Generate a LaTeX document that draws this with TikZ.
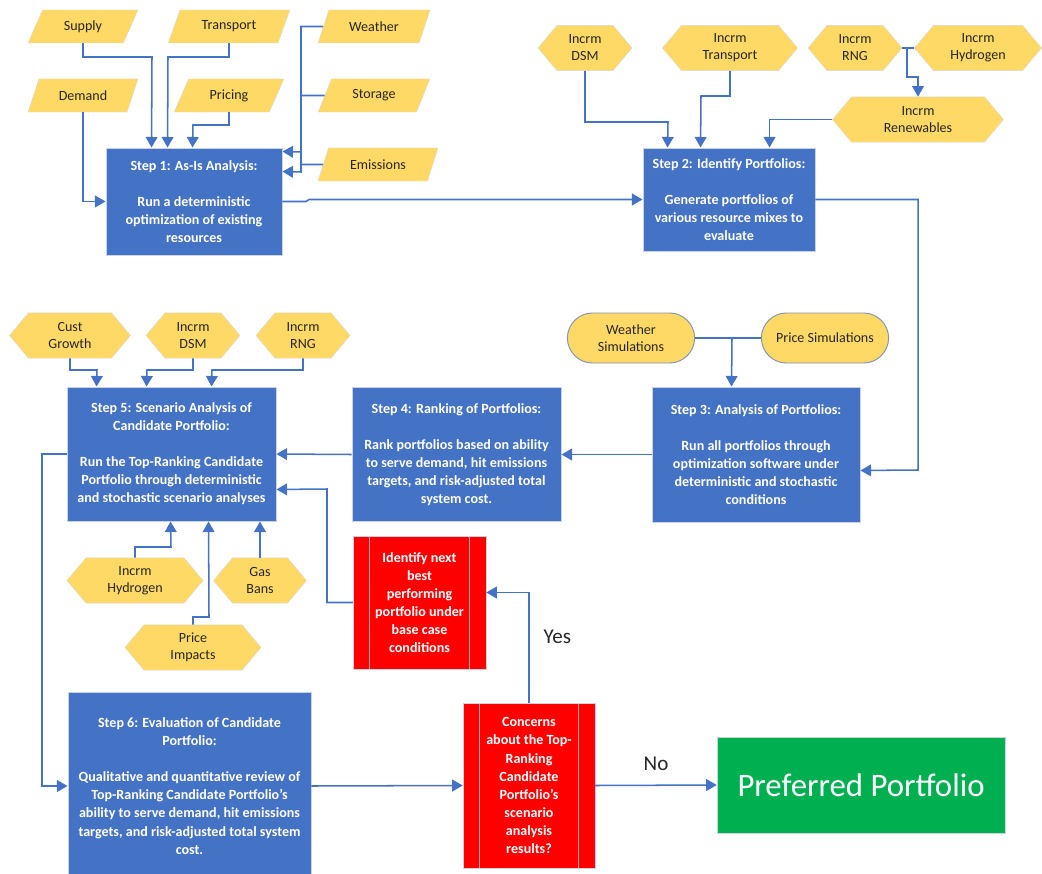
\documentclass[tikz,border=0pt]{standalone}
\usepackage{fontspec}
\setmainfont{Carlito}
\usepackage{xcolor}
\usepackage{tikz}
\definecolor{diagBlue}{HTML}{4472C4}
\definecolor{diagEdge}{HTML}{C9D3E3}
\definecolor{diagGold}{HTML}{FFD966}
\definecolor{diagGoldEdge}{HTML}{D9D9D9}
\definecolor{diagSimEdge}{HTML}{7F93B5}
\definecolor{diagRed}{HTML}{FF0000}
\definecolor{diagRedLine}{HTML}{F4A6A6}
\definecolor{diagGreen}{HTML}{00B050}
\definecolor{diagInk}{HTML}{262626}
\usetikzlibrary{arrows.meta,shapes.geometric,shapes.symbols,shapes.misc,calc}

\begin{document}
\begin{tikzpicture}[
  x=0.03cm, y=-0.03cm,
  font=\fontsize{12}{14.5}\selectfont,
  >={Triangle[length=9pt,width=10pt]},
  stepbox/.style={
    draw=diagEdge,
    line width=0.8pt,
    fill=diagBlue,
    text=white,
    align=center,
    inner sep=2pt,
    font=\fontsize{12}{15.4}\selectfont\bfseries
  },
  inputbox/.style={
    trapezium,
    trapezium left angle=63,
    trapezium right angle=117,
    trapezium stretches=true,
    draw=diagGoldEdge,
    fill=diagGold,
    text=diagInk,
    minimum height=0.99cm,
    inner sep=1pt
  },
  resbox/.style={
    signal,
    signal to=west and east,
    signal pointer angle=100,
    draw=diagGoldEdge,
    fill=diagGold,
    text=diagInk,
    align=center,
    minimum height=1.36cm,
    inner sep=1pt
  },
  simbox/.style={
    rounded rectangle,
    draw=diagSimEdge,
    line width=0.8pt,
    fill=diagGold,
    text=diagInk,
    align=center,
    minimum width=4.05cm,
    minimum height=1.5cm
  },
  procbox/.style={
    draw=diagEdge,
    fill=diagRed,
    text=white,
    align=center,
    inner sep=2pt,
    font=\fontsize{12}{15.4}\selectfont\bfseries,
    path picture={
      \draw[diagRedLine, line width=0.8pt]
        ([xshift=0.5cm]path picture bounding box.north west) -- ([xshift=0.5cm]path picture bounding box.south west)
        ([xshift=-0.5cm]path picture bounding box.north east) -- ([xshift=-0.5cm]path picture bounding box.south east);
    }
  },
  goalbox/.style={draw=diagEdge, fill=diagGreen, text=white, font=\fontsize{28}{34}\selectfont},
  flow/.style={->, line width=1.3pt, diagBlue},
  link/.style={line width=1.3pt, diagBlue},
  lbl/.style={font=\fontsize{18}{22}\selectfont, text=diagInk}
]
\useasboundingbox (0,0) rectangle (1042,874);

% Steps
\node[stepbox, minimum width=5.28cm, minimum height=3.21cm] (s1) at (194,201.5)
{Step 1: As-Is Analysis:\\[15.4pt]Run a deterministic\\optimization of existing\\resources};

\node[stepbox, minimum width=5.16cm, minimum height=3.09cm] (s2) at (729,199.5)
{Step 2: Identify Portfolios:\\[15.4pt]Generate portfolios of\\various resource mixes to\\evaluate};

\node[stepbox, minimum width=6.24cm, minimum height=4.05cm] (s3) at (756,454.5)
{Step 3: Analysis of Portfolios:\\[15.4pt]Run all portfolios through\\optimization software under\\deterministic and stochastic\\conditions};

\node[stepbox, minimum width=6.27cm, minimum height=4.02cm] (s4) at (456.5,454.5)
{Step 4: Ranking of Portfolios:\\[15.4pt]Rank portfolios based on ability\\to serve demand, hit emissions\\targets, and risk-adjusted total\\system cost.};

\node[stepbox, minimum width=6.27cm, minimum height=4.02cm] (s5) at (171.5,454)
{Step 5: Scenario Analysis of\\Candidate Portfolio:\\[15.4pt]Run the Top-Ranking Candidate\\Portfolio through deterministic\\and stochastic scenario analyses};

\node[stepbox, minimum width=7.29cm, minimum height=5.64cm] (s6) at (189.5,786)
{Step 6: Evaluation of Candidate\\Portfolio:\\[15.4pt]Qualitative and quantitative review of\\Top-Ranking Candidate Portfolio's\\ability to serve demand, hit emissions\\targets, and risk-adjusted total system\\cost.};

\node[procbox, minimum width=3.99cm, minimum height=3.99cm] (r1) at (419.5,602.5)
{Identify next\\best\\performing\\portfolio under\\base case\\conditions};

\node[procbox, minimum width=3.96cm, minimum height=4.95cm] (r2) at (529,785.5)
{Concerns\\about the Top-\\Ranking\\Candidate\\Portfolio's\\scenario\\analysis\\results?};

\node[goalbox, minimum width=8.64cm, minimum height=2.88cm] (pref) at (861,785) {Preferred Portfolio};

% Step 1 inputs
\node[inputbox, minimum width=3.3cm] (supply) at (83,26.5) {Supply};
\node[inputbox, minimum width=3.66cm] (transport) at (229,26.5) {Transport};
\node[inputbox, minimum width=3.36cm] (weather) at (374,26.5) {Weather};
\node[inputbox, minimum width=3.3cm] (demand) at (83,95.5) {Demand};
\node[inputbox, minimum width=3.3cm] (pricing) at (229,95.5) {Pricing};
\node[inputbox, minimum width=3.36cm] (storage) at (374,95.5) {Storage};
\node[inputbox, minimum width=3.6cm] (emissions) at (378,164.5) {Emissions};

% Step 2 inputs
\node[resbox, minimum width=2.82cm] (hdsm) at (585,48) {Incrm\\DSM};
\node[resbox, minimum width=4.05cm] (htrans) at (730,48) {Incrm\\Transport};
\node[resbox, minimum width=2.82cm] (hrng) at (855,48) {Incrm\\RNG};
\node[resbox, minimum width=3.81cm] (hhyd) at (978,48) {Incrm\\Hydrogen};
\node[resbox, minimum width=5.13cm] (hren) at (918,119.5) {Incrm\\Renewables};

% Step 3 inputs
\node[simbox] (wsim) at (631,338) {Weather\\Simulations};
\node[simbox] (psim) at (825,338) {Price Simulations};

% Step 5 inputs
\node[resbox, minimum width=3.63cm] (cgrow) at (70,335.5) {Cust\\Growth};
\node[resbox, minimum width=2.82cm] (cdsm) at (193,335.5) {Incrm\\DSM};
\node[resbox, minimum width=2.82cm] (crng) at (303,335.5) {Incrm\\RNG};
\node[resbox, minimum width=4.08cm] (bhyd) at (135,580.5) {Incrm\\Hydrogen};
\node[resbox, minimum width=2.79cm] (bgas) at (260,580.5) {Gas\\Bans};
\node[resbox, minimum width=4.08cm] (bprice) at (193,647.5) {Price\\Impacts};

% Relations
\draw[flow] (supply.south) |- (152,57) -- ($(s1.north west)+(46,0)$);
\draw[flow] (transport.south) |- (168,57) -- ($(s1.north west)+(62,0)$);
\draw[flow] (pricing.south) |- (193,125) -- ($(s1.north west)+(87,0)$);
\draw[flow] (demand.south) |- (s1.west);
\draw[flow] (weather.west) -| (301,152) -- ($(s1.north east)+(0,4)$);
\draw[flow] (storage.west) -| (301,172) -- ($(s1.north east)+(0,24)$);
\draw[link] (emissions.west) -- (301,164.5);

\draw[flow] (s1.east) -- (306,201.5) -- (309,199.5) -- (s2.west);

\draw[flow] (hdsm.south) |- (668,122) -- ($(s2.north west)+(25,0)$);
\draw[flow] (htrans.south) |- (701,96) -- ($(s2.north west)+(58,0)$);
\draw[flow] (hren.west) -| ($(s2.north west)+(127,0)$);
\draw[link] (hrng.east) -- (hhyd.west);
\draw[flow] (907,48) |- (918,77) -- (hren.north);

\draw[flow] (s2.east) -| (918,470) -- ($(s3.south east)+(0,-52)$);
\draw[link] (wsim.east) -- (psim.west);
\draw[flow] (732,338) -- ($(s3.north west)+(80,0)$);

\draw[flow] (s3.west) -- (s4.east);
\draw[flow] (s4.west) -- (s5.east);

\draw[flow] (cgrow.south) |- (97,370) -- ($(s5.north west)+(30,0)$);
\draw[flow] (cdsm.south) |- (147,370) -- ($(s5.north west)+(80,0)$);
\draw[flow] (crng.south) |- (212,370) -- ($(s5.north west)+(145,0)$);
\draw[flow] (bhyd.north) |- (171,547) -- ($(s5.south west)+(104,0)$);
\draw[flow] (bgas.north) -- (bgas.north |- s5.south);
\draw[flow] (bprice.north) |- (209,617) -- ($(s5.south west)+(142,0)$);

\draw[flow] (r1.west) -| (327,489) -- ($(s5.south east)+(0,-32)$);
\draw[flow] (s5.west) -- (42,454) |- (s6.west);
\draw[flow] (s6.east) -- (r2.west);
\draw[flow] (r2.east) -- node[lbl, above=0.3cm] (nolbl) {No} (pref.west);
\draw[flow] (r2.north) |- node[lbl, pos=0.3, right=0.3cm] (yeslbl) {Yes} ($(r1.east)+(0,-10)$);

\end{tikzpicture}
\end{document}
